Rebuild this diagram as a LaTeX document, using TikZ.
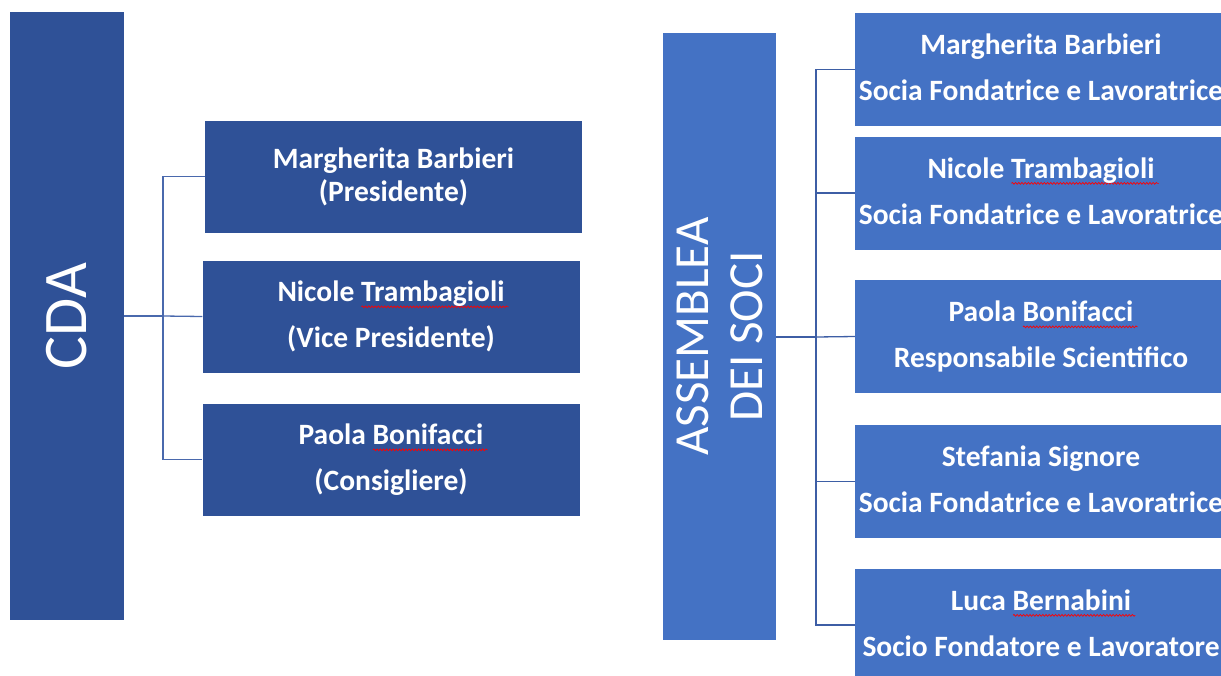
\documentclass[tikz,border=0pt]{standalone}
\usepackage{fontspec}
\setmainfont{Carlito}
\usetikzlibrary{decorations.pathmorphing}
\definecolor{cdablue}{HTML}{2F5197}
\definecolor{socblue}{HTML}{4472C4}
\definecolor{lnL}{HTML}{4A69AD}
\definecolor{lnR}{HTML}{3D5EA5}
\newsavebox\errbox
\newcommand\spellerr[1]{\sbox\errbox{#1}\leavevmode\rlap{\tikz[baseline=0pt,x=1pt,y=1pt]{\draw[red, line width=0.7pt, decorate, decoration={snake, amplitude=0.9pt, segment length=3.2pt}] (0,-5) -- (\wd\errbox+4pt,-5);}}\usebox\errbox}
\begin{document}
\begin{tikzpicture}[x=1pt,y=-1pt,
  bar/.style={rectangle, inner sep=0pt, draw=none},
  barlabel/.style={rotate=90, text=white, align=center, inner sep=0pt},
  pbox/.style={rectangle, inner sep=0pt, text=white, align=center, draw=none,
    font=\fontsize{29.5}{46}\selectfont\bfseries, text depth=4pt},
  lbox/.style={pbox, fill=cdablue, minimum width=377pt, minimum height=112pt},
  rbox/.style={pbox, fill=socblue, minimum width=372pt, minimum height=113pt},
  connL/.style={draw=lnL, line width=1.3pt},
  connR/.style={draw=lnR, line width=1.3pt},
  trunk/.style={line width=2.2pt}]
\useasboundingbox (0,0) rectangle (1221,675);
\clip (0,0) rectangle (1221,675);
% ---------- left: CDA ----------
\node[bar, fill=cdablue, minimum width=114pt, minimum height=608pt] (cda) at (67,316) {};
\node[barlabel, font=\fontsize{62}{62}\selectfont] (cdat) at (cda.center) {CDA};
\node[lbox, font=\fontsize{29.5}{33}\selectfont\bfseries] (l1) at (393.5,176.5) {Margherita Barbieri\\(Presidente)};
\node[lbox] (l2) at (391,316.5) {Nicole \spellerr{Trambagioli}\\(Vice Presidente)};
\node[lbox] (l3) at (391,459.5) {Paola \spellerr{Bonifacci}\\(Consigliere)};
\coordinate (lj) at (163,316);
\draw[connL, trunk] (cda.east |- lj) -- (lj);
\draw[connL] (lj) |- (l1.west);
\draw[connL] (lj) -- (l2.west);
\draw[connL] (lj) |- (l3.west);
% ---------- right: Assemblea ----------
\node[bar, fill=socblue, minimum width=113pt, minimum height=607pt] (ass) at (719.5,336.5) {};
\node[barlabel, font=\fontsize{49}{54}\selectfont] (asst) at (ass.center) {ASSEMBLEA\\DEI SOCI};
\node[rbox] (r1) at (1041,69.5) {Margherita Barbieri\\Socia Fondatrice e Lavoratrice};
\node[rbox] (r2) at (1041,193) {Nicole \spellerr{Trambagioli}\\Socia Fondatrice e Lavoratrice};
\node[rbox] (r3) at (1041,336.5) {Paola \spellerr{Bonifacci}\\Responsabile Scientifico};
\node[rbox] (r4) at (1041,481.5) {Stefania Signore\\Socia Fondatrice e Lavoratrice};
\node[rbox] (r5) at (1041,625) {Luca \spellerr{Bernabini}\\Socio Fondatore e Lavoratore};
\coordinate (rj) at (816,337);
\draw[connR, trunk] (ass.east |- rj) -- (rj);
\draw[connR] (rj) |- (r1.west);
\draw[connR] (rj) |- (r2.west);
\draw[connR] (rj) -- (r3.west);
\draw[connR] (rj) |- (r4.west);
\draw[connR] (rj) |- (r5.west);
\end{tikzpicture}
\end{document}
